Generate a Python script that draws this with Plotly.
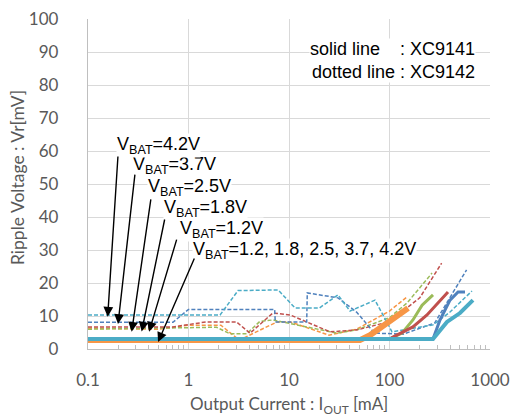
import numpy as np
import plotly.graph_objects as go

# ---------------- data ----------------
x_ticks = [0.1, 1, 10, 100, 1000]
x_tick_labels = ["0.1", "1", "10", "100", "1000"]
y_ticks = list(range(0, 101, 10))

# XC9142 (dotted lines)
d12_x = [0.1, 0.5, 1.0, 2.1, 3.2, 7.6, 10.3, 25, 47, 100, 150]
d12_y = [6.3, 6.0, 7.2, 7.2, 2.7, 8.2, 8.2, 4.2, 6.0, 11.5, 15.8]
d18_x = [0.1, 1.9, 2.6, 3.8, 5.1, 6.9, 30, 47, 100, 150, 265]
d18_y = [6.0, 6.6, 4.6, 4.6, 8.3, 8.8, 4.8, 5.8, 9.5, 14.0, 23.0]
d25_x = [0.1, 0.7, 1.5, 3.0, 4.1, 6.9, 10.3, 25.6, 48, 100, 200, 330]
d25_y = [6.7, 6.7, 8.2, 8.2, 4.8, 10.9, 10.3, 5.2, 5.8, 8.3, 15.5, 26.0]
d37_x = [0.1, 0.7, 1.0, 7.2, 7.3, 15.0, 15.2, 30.7, 47, 71, 137, 282, 585]
d37_y = [8.1, 8.1, 12.0, 12.0, 8.2, 8.2, 17.0, 15.5, 11.2, 4.8, 4.5, 7.9, 24.0]
d42_x = [0.1, 2.06, 3.11, 7.8, 11.5, 20, 30.7, 40.5, 71.7, 106, 271, 400, 662]
d42_y = [10.3, 10.3, 17.7, 17.9, 12.4, 12.4, 16.4, 11.5, 14.8, 5.2, 7.3, 11.2, 17.6]

# XC9141 (solid lines)
s12_x = [0.1, 50.8, 64, 101, 153]
s12_y = [2.7, 2.7, 4.2, 8.5, 12.4]
s18_x = [0.1, 100, 133, 171, 211, 271]
s18_y = [3.0, 3.0, 4.8, 8.8, 13.3, 16.4]
s25_x = [0.1, 100, 108, 171, 236, 318, 382]
s25_y = [3.0, 3.0, 3.6, 6.7, 10.3, 14.8, 17.3]
s37_x = [0.1, 271, 318, 400, 481, 564]
s37_y = [3.0, 3.0, 8.8, 14.8, 17.3, 17.3]
s42_x = [0.1, 271, 373, 503, 677]
s42_y = [3.0, 3.0, 8.2, 10.9, 14.8]

# annotation labels / arrow endpoints (data units: mA, mV)
labels = ["V<sub>BAT</sub>=4.2V", "V<sub>BAT</sub>=3.7V", "V<sub>BAT</sub>=2.5V",
          "V<sub>BAT</sub>=1.8V", "V<sub>BAT</sub>=1.2V",
          "V<sub>BAT</sub>=1.2, 1.8, 2.5, 3.7, 4.2V"]
label_x = [0.19, 0.275, 0.39, 0.56, 0.81, 1.09]
label_y = [61.8, 55.5, 48.8, 42.7, 36.1, 29.7]
tip_x = [0.157, 0.199, 0.272, 0.342, 0.405, 0.498]
tip_y = [9.8, 7.6, 5.2, 5.3, 5.2, 2.1]
tail_x = [0.199, 0.294, 0.424, 0.583, 0.77, 1.16]
tail_y = [58.8, 53.3, 45.8, 39.7, 33.6, 27.9]

BLUE, RED, GREEN, CYAN, ORANGE = "#4F81BD", "#C0504D", "#9BBB59", "#4BACC6", "#F79646"

fig = go.Figure()
dash = "4px,2px"
for xs, ys, c in [(d12_x, d12_y, ORANGE), (d18_x, d18_y, GREEN), (d25_x, d25_y, RED),
                  (d37_x, d37_y, BLUE), (d42_x, d42_y, CYAN)]:
    fig.add_trace(go.Scatter(x=xs, y=ys, mode="lines",
                             line=dict(color=c, width=1.5, dash=dash), showlegend=False))
for xs, ys, c, w in [(s12_x, s12_y, ORANGE, 6), (s18_x, s18_y, GREEN, 3), (s25_x, s25_y, RED, 3),
                     (s37_x, s37_y, BLUE, 3), (s42_x, s42_y, CYAN, 4)]:
    fig.add_trace(go.Scatter(x=xs, y=ys, mode="lines",
                             line=dict(color=c, width=w), showlegend=False))

annos = []
for lx, ly, t in reversed(list(zip(label_x, label_y, labels))):
    annos.append(dict(x=np.log10(lx), y=ly, xref="x", yref="y", text=t, showarrow=False,
                      xanchor="left", yanchor="middle", bgcolor="white", borderpad=0,
                      font=dict(family="Liberation Sans, Arial", size=18, color="black")))
for hx, hy, tx, ty in zip(tip_x, tip_y, tail_x, tail_y):
    annos.append(dict(x=np.log10(hx), y=hy, xref="x", yref="y", text="", showarrow=True,
                      ax=np.log10(tx), ay=ty, axref="x", ayref="y",
                      arrowhead=2, arrowsize=1.4, arrowwidth=1.4, arrowcolor="black",
                      standoff=0, startstandoff=0))
annos.append(dict(x=(476 - 88) / 402, y=(349 - 60.5) / 330, xref="paper", yref="paper",
                  text="solid line&nbsp;&nbsp;&nbsp;&nbsp;: XC9141<br>dotted line : XC9142",
                  showarrow=False, align="right", xanchor="right", yanchor="middle",
                  bgcolor="white", borderpad=0,
                  font=dict(family="Liberation Sans, Arial", size=18, color="black")))
annos.append(dict(x=(17 - 88) / 402, y=(349 - 178) / 330, xref="paper", yref="paper",
                  text="Ripple Voltage : Vr[mV]", textangle=-90, showarrow=False,
                  xanchor="center", yanchor="middle",
                  font=dict(family="Lato", size=17.5, color="#595959")))
annos.append(dict(x=(289 - 88) / 402, y=(349 - 405) / 330, xref="paper", yref="paper",
                  text="Output Current : I<sub>OUT</sub> [mA]", showarrow=False,
                  xanchor="center", yanchor="middle",
                  font=dict(family="Lato", size=17, color="#595959")))

minor_vals = [m * 10.0 ** e for e in range(-1, 3) for m in range(2, 10)]

fig.update_layout(
    width=515, height=416,
    margin=dict(l=88, r=25, t=19, b=67, autoexpand=False),
    paper_bgcolor="white", plot_bgcolor="white",
    annotations=annos,
    xaxis=dict(type="log", range=[-1, 3], tickvals=x_ticks, ticktext=x_tick_labels,
               automargin=False,
               showgrid=True, gridcolor="#D9D9D9", gridwidth=1.3,
               showline=True, linecolor="#BFBFBF", linewidth=1.3,
               ticks="", ticklabelstandoff=15, zeroline=False,
               tickfont=dict(family="Lato", size=17, color="#595959"),
               minor=dict(tickvals=minor_vals, ticks="inside", ticklen=4,
                          tickcolor="#BFBFBF", showgrid=False)),
    yaxis=dict(range=[0, 100], tickvals=y_ticks, showgrid=True, gridcolor="#D9D9D9",
               automargin=False,
               gridwidth=1.3, showline=True, linecolor="#BFBFBF", linewidth=1.3,
               ticks="", ticklabelstandoff=25, zeroline=False,
               tickfont=dict(family="Lato", size=17, color="#595959")),
)

fig.write_html("out.html", config={"displayModeBar": False},
               post_script="document.body.style.margin='0';document.body.style.overflow='hidden';")
